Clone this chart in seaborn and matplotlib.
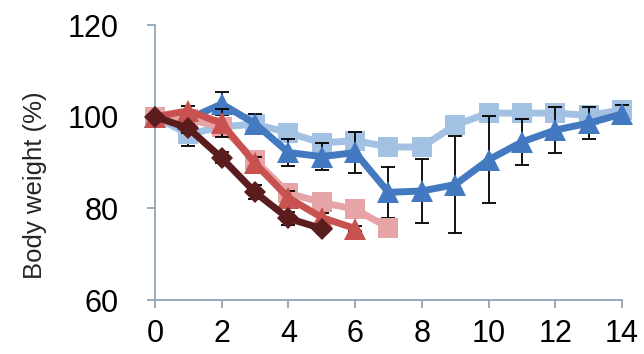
import matplotlib
matplotlib.use('Agg')
import matplotlib.pyplot as plt
import seaborn as sns
import pandas as pd

# Body weight (%) per day
days_brown = [0, 1, 2, 3, 4, 5]
weight_brown = [100, 97.5, 91, 83.5, 77.8, 75.6]
err_brown = [0, 1, 1.2, 1.5, 1.5, 0.5]

days_red = [0, 1, 2, 3, 4, 5, 6]
weight_red = [100, 101.3, 98.6, 89.8, 82.3, 78, 75.6]
err_red = [0, 1, 3, 1.5, 1.5, 1, 0.5]

days_pink = [0, 1, 2, 3, 4, 5, 6, 7]
weight_pink = [100, 99.5, 97.7, 90.5, 83.3, 81.3, 79.8, 75.8]
err_pink = [0, 0.5, 1, 1, 1, 1, 1, 0.5]

days_lightblue = list(range(15))
weight_lightblue = [100, 96.2, 97.8, 98.4, 96.5, 94.3, 94.8, 93.4, 93.4, 98.2, 100.8, 100.8, 100.8, 100.3, 101.5]
err_lightblue = [0, 2.5, 1, 1, 2, 1, 1, 1, 1, 2, 0.5, 0.5, 0.5, 1, 1]

days_blue = list(range(15))
weight_blue = [100, 99.5, 102.8, 98.5, 92.2, 91.3, 92.2, 83.5, 83.8, 85.2, 90.6, 94.5, 97.1, 98.6, 100.6]
err_blue = [0, 1, 2.5, 2, 3, 3, 4.5, 5.5, 7, 10.5, 9.5, 5, 5, 3.5, 2]

sns.set_style('white')
plt.rcParams['font.family'] = ['Liberation Sans', 'DejaVu Sans']

fig = plt.figure(figsize=(6.44, 3.54), dpi=100)
ax = fig.add_axes([0.2407, 0.1525, 0.7251, 0.7765])

# back to front
series = [
    (days_lightblue, weight_lightblue, err_lightblue, '#a3c1e2', 's', 14.5),
    (days_blue, weight_blue, err_blue, '#4279c0', '^', 15.5),
    (days_pink, weight_pink, err_pink, '#e6a4a6', 's', 14.5),
    (days_red, weight_red, err_red, '#c85250', '^', 15.5),
    (days_brown, weight_brown, err_brown, '#5b1c1d', 'D', 11),
]

z = 2
for days, w, e, col, mk, ms in series:
    ax.errorbar(days, w, yerr=e, fmt='none', ecolor='black', elinewidth=1.3,
                capsize=5, capthick=1.3, zorder=z, clip_on=False)
    df = pd.DataFrame({'day': days, 'weight': w})
    sns.lineplot(data=df, x='day', y='weight', ax=ax, color=col, linewidth=5,
                 marker=mk, markersize=ms, markeredgewidth=0, zorder=z + 0.5,
                 clip_on=False)
    z += 1

ax.set_xlim(0, 14)
ax.set_ylim(60, 120)
ax.set_xticks(range(0, 15, 2))
ax.set_yticks([60, 80, 100, 120])
ax.set_xlabel('')
ax.set_ylabel('Body weight (%)', fontsize=18.5)
ax.yaxis.set_label_coords(-0.232, 0.418)

axis_col = '#8fa5b8'
for s in ['top', 'right']:
    ax.spines[s].set_visible(False)
for s in ['left', 'bottom']:
    ax.spines[s].set_color(axis_col)
    ax.spines[s].set_linewidth(1.3)
ax.tick_params(axis='both', direction='out', length=6, width=1.3, color=axis_col,
               labelsize=22, labelcolor='black', left=True, bottom=True)
ax.tick_params(axis='y', pad=20)
ax.tick_params(axis='x', pad=8)

plt.savefig('out.png', dpi=100)
